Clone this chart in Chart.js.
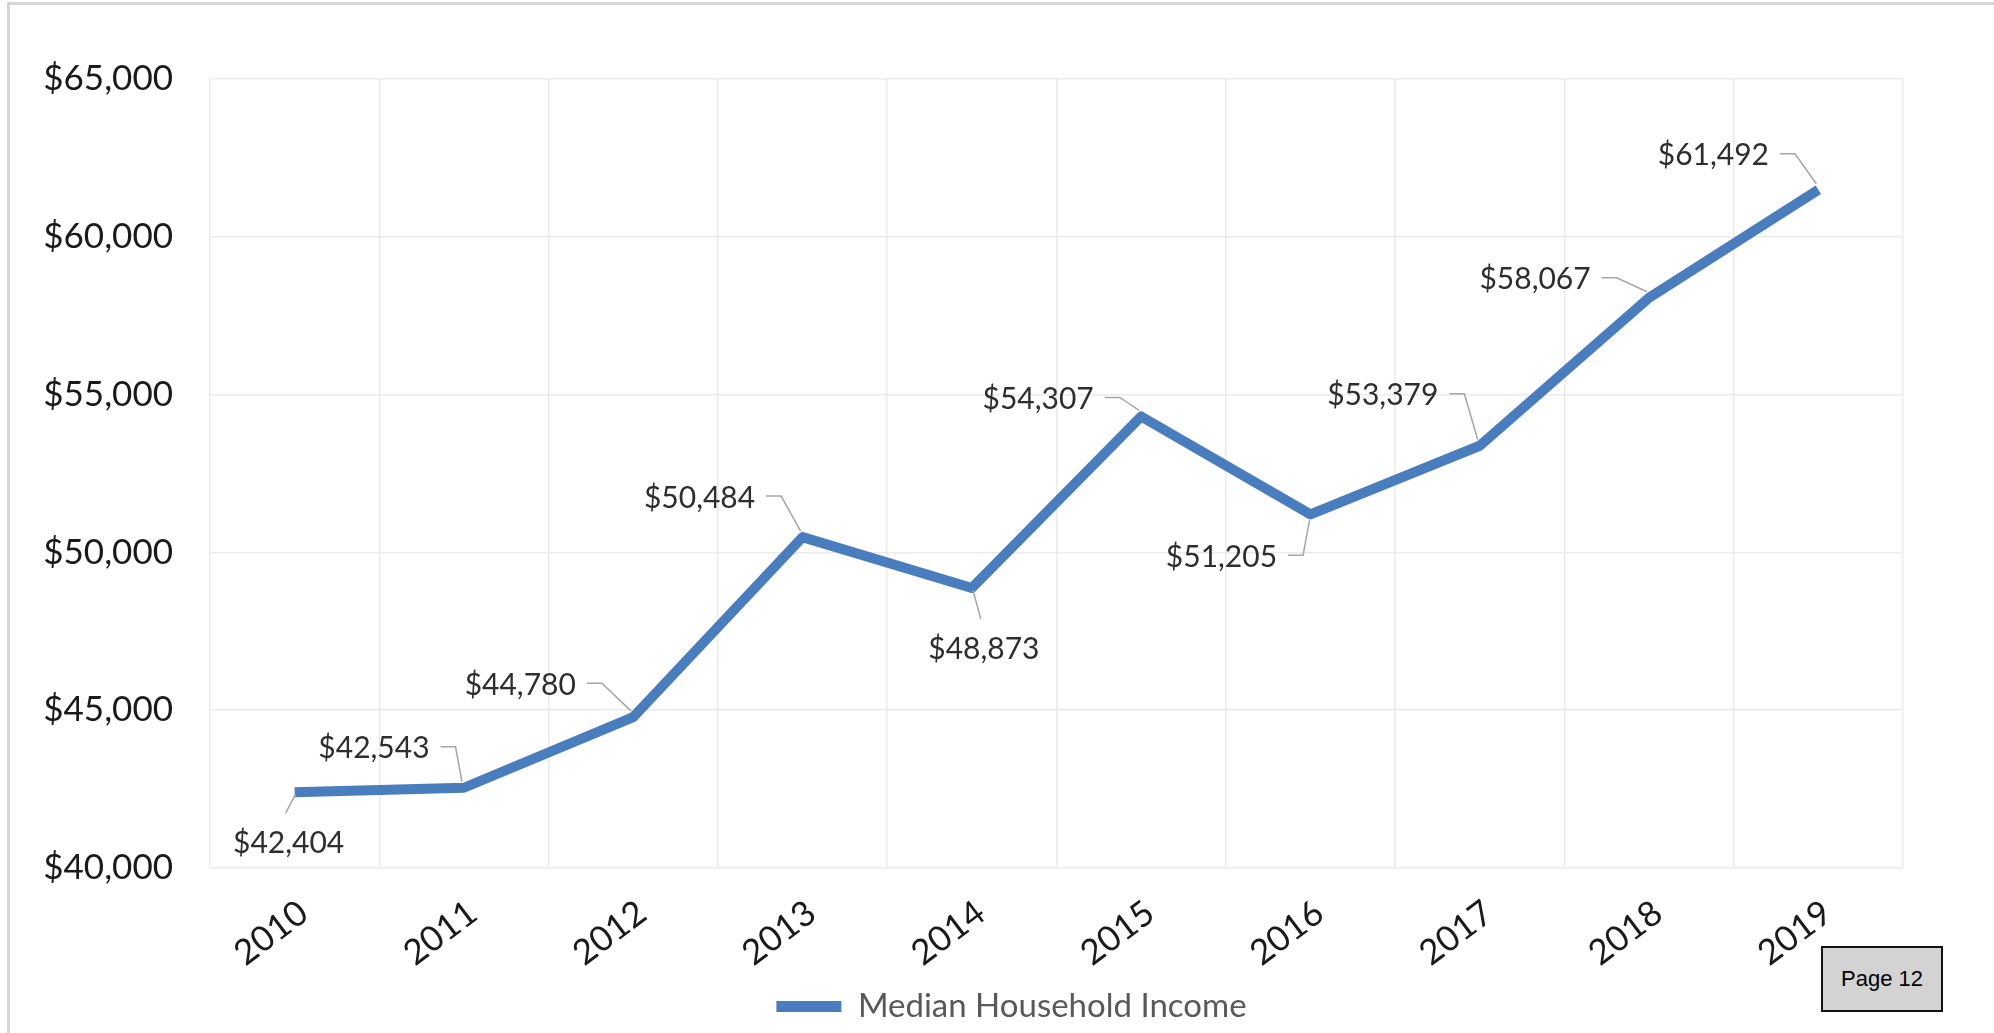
<!DOCTYPE html>
<html><head><meta charset="utf-8">
<script src="https://cdn.jsdelivr.net/npm/chart.js@4.4.0/dist/chart.umd.min.js"></script>
<style>
html,body{margin:0;padding:0;background:#fff;}
#wrap{position:relative;width:1994px;height:1033px;overflow:hidden;background:#fff;}
#frame{position:absolute;left:7px;top:2px;right:-5px;bottom:-5px;border-left:3px solid #d6d6d6;border-top:3px solid #d6d6d6;}
canvas{position:absolute;left:0;top:0;}
#page{position:absolute;left:1821px;top:946px;width:118px;height:62px;background:#d3d3d3;border:2px solid #111;font-family:"Liberation Sans",Arial,sans-serif;font-size:22px;display:flex;align-items:center;justify-content:center;color:#000;}
</style></head>
<body><div id="wrap"><div id="frame"></div><canvas id="c" width="1994" height="1033"></canvas><div id="page">Page 12</div></div>
<script>
const years = ['2010','2011','2012','2013','2014','2015','2016','2017','2018','2019'];
const income = [42404, 42543, 44780, 50484, 48873, 54307, 51205, 53379, 58067, 61492];
const seriesName = 'Median Household Income';
const yMin = 40000, yMax = 65000, yStep = 5000;
// label placement (offset of label centre from its point, px)
const labelDx = [-6, -90, -113, -103, 12, -103, -89, -97, -114, -105];
const labelDy = [51, -39, -32, -39, 61, -17, 43, -50, -18, -34];

const LINE = '#4a7dbd';
const fmt = v => '$' + v.toLocaleString('en-US');

const labelPlugin = {
  id: 'dataLabelsLeader',
  afterDatasetsDraw(chart) {
    const ctx = chart.ctx;
    const meta = chart.getDatasetMeta(0);
    ctx.save();
    ctx.font = '30px Lato';
    ctx.textAlign = 'center';
    ctx.textBaseline = 'middle';
    meta.data.forEach((pt, i) => {
      const x = pt.x, y = pt.y;
      const cx = x + labelDx[i], cy = y + labelDy[i];
      const txt = fmt(income[i]);
      const w = ctx.measureText(txt).width;
      ctx.strokeStyle = '#a6a6a6';
      ctx.lineWidth = 1.5;
      ctx.beginPath();
      if (Math.abs(labelDx[i]) < 40) {
        ctx.moveTo(x + 1, y + 2);
        ctx.lineTo(cx - 3, cy - 30);
      } else {
        const right = cx + w / 2;
        const ly = cy - 2;
        ctx.moveTo(right + 11, ly);
        ctx.lineTo(right + 26, ly);
        if (labelDy[i] < 0) ctx.lineTo(x - 2, y - 6);
        else ctx.lineTo(x - 1, y + 6);
      }
      ctx.stroke();
      ctx.fillStyle = '#2e2e2e';
      ctx.fillText(txt, cx, cy);
    });
    ctx.restore();
  }
};

const legendShift = {
  id: 'legendShift',
  afterLayout(chart) {
    if (chart.legend) { chart.legend.left += 60; chart.legend.right += 60; }
  }
};

function build() {
  new Chart(document.getElementById('c'), {
    type: 'line',
    data: {
      labels: years,
      datasets: [{
        label: seriesName,
        data: income,
        borderColor: LINE,
        backgroundColor: LINE,
        borderWidth: 10,
        pointRadius: 0,
        tension: 0,
        borderJoinStyle: 'round',
        borderCapStyle: 'butt'
      }]
    },
    options: {
      responsive: false,
      animation: false,
      devicePixelRatio: 1,
      layout: { padding: { left: 0, right: 91, top: 79, bottom: 0 } },
      plugins: {
        tooltip: { enabled: false },
        legend: {
          position: 'bottom',
          labels: {
            boxWidth: 65, boxHeight: 11, padding: 10,
            color: '#595959',
            font: { family: 'Lato', size: 33 },
            generateLabels(chart) {
              const items = Chart.defaults.plugins.legend.labels.generateLabels(chart);
              items.forEach(it => { it.fillStyle = LINE; it.lineWidth = 0; it.strokeStyle = 'rgba(0,0,0,0)'; });
              return items;
            }
          }
        }
      },
      scales: {
        x: {
          offset: true,
          grid: { offset: true, color: '#ebebeb', lineWidth: 1.5, drawTicks: false },
          border: { display: false },
          ticks: { color: '#1a1a1a', font: { family: 'Lato', size: 35 }, minRotation: 37, maxRotation: 37, padding: 24, labelOffset: 9, autoSkip: false },
          afterFit(s) { s.height = 112; }
        },
        y: {
          min: yMin, max: yMax,
          grid: { color: '#ebebeb', lineWidth: 1.5, drawTicks: false },
          border: { display: false },
          ticks: { stepSize: yStep, color: '#1a1a1a', font: { family: 'Lato', size: 35 }, padding: 37, callback: v => fmt(v) },
          afterFit(s) { s.width = 210; }
        }
      }
    },
    plugins: [labelPlugin, legendShift]
  });
}
if (document.fonts && document.fonts.load) {
  Promise.all([document.fonts.load('35px Lato'), document.fonts.load('30px Lato')]).then(build, build);
} else build();
</script>
</body></html>
